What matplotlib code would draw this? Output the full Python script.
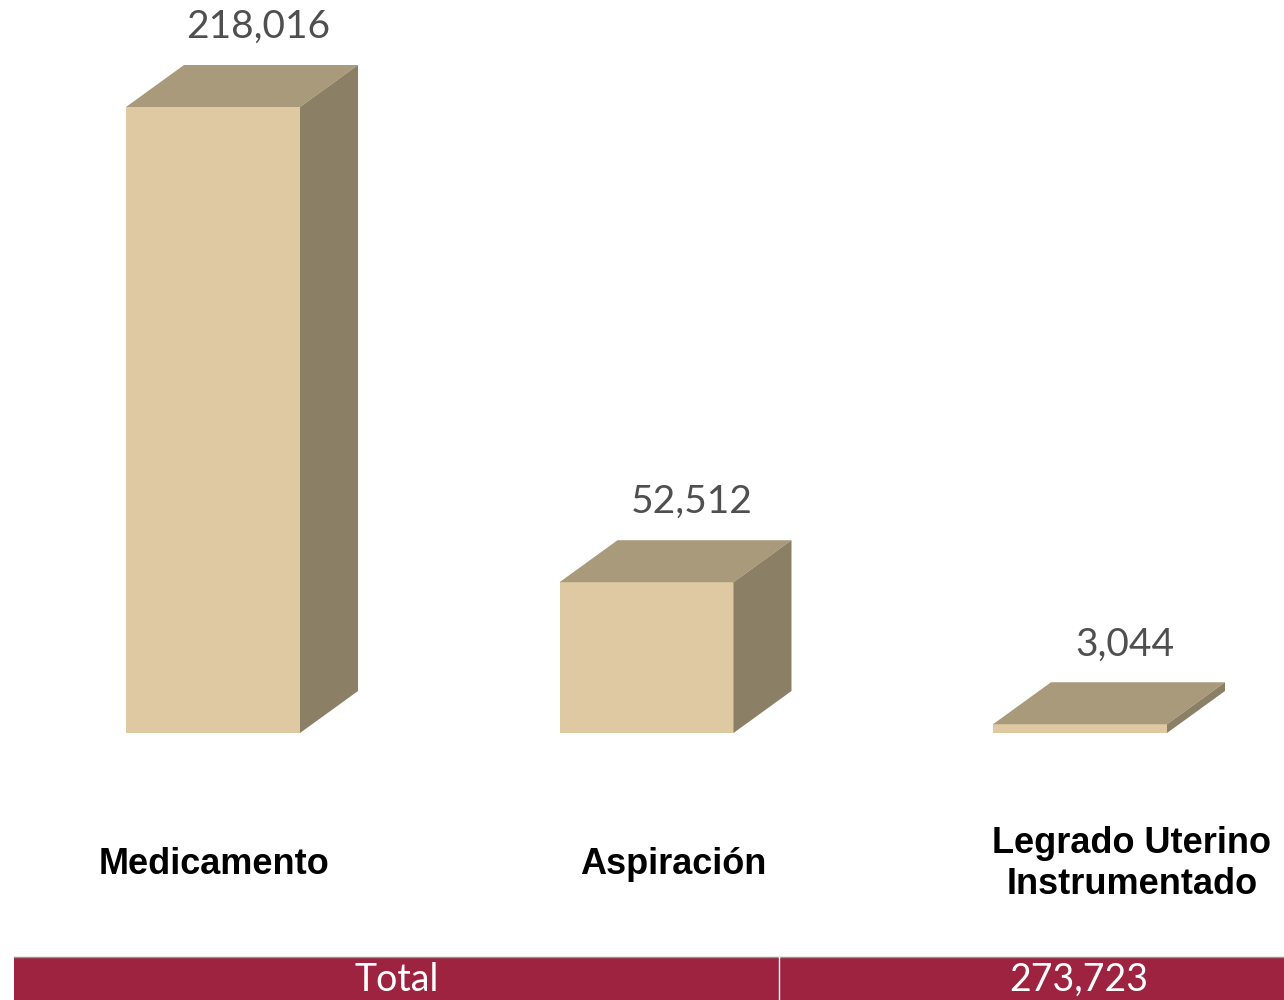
import matplotlib.pyplot as plt
from matplotlib.patches import Polygon, Rectangle
import numpy as np

categories = ["Medicamento", "Aspiración", "Legrado Uterino\nInstrumentado"]
values = [218016, 52512, 3044]
value_labels = ["218,016", "52,512", "3,044"]
total_label = "Total"
total_value = "273,723"

W, H = 1284, 1000
fig = plt.figure(figsize=(W / 100, H / 100), dpi=100)
ax = fig.add_axes([0, 0, 1, 1])

# pixel geometry -> data units
px_per_unit = 626 / 218016      # vertical px per case
px_per_cat = 433.5              # horizontal px between bars
x0_px, base_px = 213, 733       # first bar centre / baseline (from top)
ax.set_xlim(-x0_px / px_per_cat, (W - x0_px) / px_per_cat)
ax.set_ylim(-(H - base_px) / px_per_unit, base_px / px_per_unit)
ax.axis("off")

bw = 174 / px_per_cat
dx = 58 / px_per_cat
dy = 42 / px_per_unit

front = "#dec9a2"
top = "#a89a7a"
side = "#8b7f66"

for i, v in enumerate(values):
    l, r = i - bw / 2, i + bw / 2
    ax.add_patch(Polygon([(l, 0), (r, 0), (r, v), (l, v)], closed=True,
                         facecolor=front, edgecolor="none"))
    ax.add_patch(Polygon([(l, v), (r, v), (r + dx, v + dy), (l + dx, v + dy)],
                         closed=True, facecolor=top, edgecolor="none"))
    ax.add_patch(Polygon([(r, 0), (r + dx, dy), (r + dx, v + dy), (r, v)],
                         closed=True, facecolor=side, edgecolor="none"))
    ax.text(i + 45 / px_per_cat, v + dy + 20 / px_per_unit, value_labels[i],
            ha="center", va="bottom", fontsize=28, color="#4f4f4f",
            family="Lato")
    # category labels drift right a little, as in the original layout
    ax.text(i + (1 + 25.5 * i) / px_per_cat, -131 / px_per_unit, categories[i],
            ha="center", va="center", fontsize=26, fontweight="bold",
            family="Liberation Sans", color="black", linespacing=1.22)

# total band at the bottom
band_y = (H - 957) / H
fig.patches.append(Rectangle((14 / W, 0), 1 - 14 / W, band_y,
                             transform=fig.transFigure, facecolor="#9e2340",
                             edgecolor="none"))
fig.lines.append(plt.Line2D([14 / W, 1], [band_y, band_y], transform=fig.transFigure,
                            color="#7fa38a", lw=1))
fig.lines.append(plt.Line2D([779 / W, 779 / W], [0, band_y], transform=fig.transFigure,
                            color="white", lw=1))
fig.text(397 / W, 2 / H, total_label, ha="center", va="bottom", fontsize=27,
         color="white", family="Lato")
fig.text(1079 / W, 2 / H, total_value, ha="center", va="bottom", fontsize=27,
         color="white", family="Lato")

fig.savefig("out.png", dpi=100)
